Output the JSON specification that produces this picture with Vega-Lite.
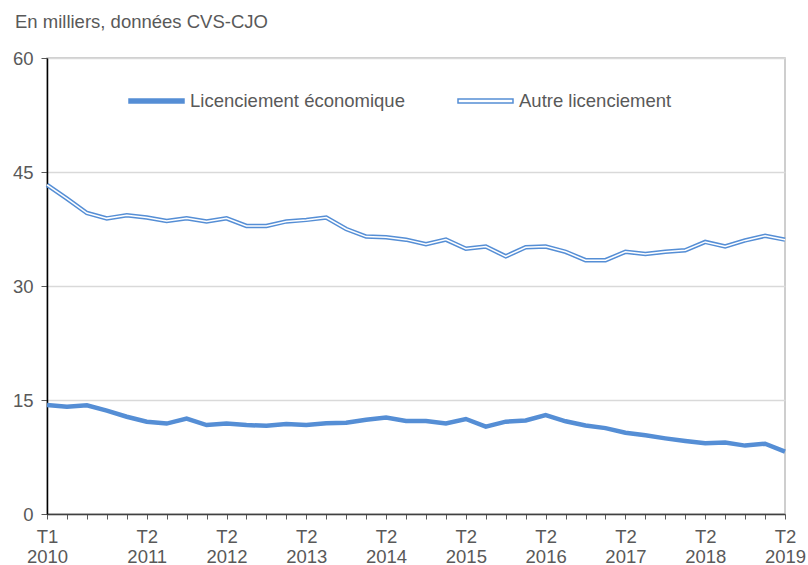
{
  "$schema": "https://vega.github.io/schema/vega-lite/v6.json",
  "width": 738,
  "height": 456,
  "autosize": "none",
  "padding": {"left": 47, "top": 58, "right": 23, "bottom": 51},
  "background": "white",
  "title": {
    "text": "En milliers, données CVS-CJO",
    "anchor": "start",
    "frame": "group",
    "dx": -32,
    "offset": 18,
    "font": "Liberation Sans",
    "fontSize": 18.5,
    "fontWeight": "normal",
    "color": "#595959"
  },
  "config": {
    "view": {"stroke": "#bfbfbf", "strokeWidth": 1.5},
    "font": "Liberation Sans"
  },
  "data": {
    "values": [
      {"q": "T1 2010", "s": "Licenciement économique", "v": 14.35},
      {"q": "T2 2010", "s": "Licenciement économique", "v": 14.1},
      {"q": "T3 2010", "s": "Licenciement économique", "v": 14.3},
      {"q": "T4 2010", "s": "Licenciement économique", "v": 13.6},
      {"q": "T1 2011", "s": "Licenciement économique", "v": 12.8},
      {"q": "T2 2011", "s": "Licenciement économique", "v": 12.15},
      {"q": "T3 2011", "s": "Licenciement économique", "v": 11.9},
      {"q": "T4 2011", "s": "Licenciement économique", "v": 12.55},
      {"q": "T1 2012", "s": "Licenciement économique", "v": 11.7},
      {"q": "T2 2012", "s": "Licenciement économique", "v": 11.9},
      {"q": "T3 2012", "s": "Licenciement économique", "v": 11.7},
      {"q": "T4 2012", "s": "Licenciement économique", "v": 11.6},
      {"q": "T1 2013", "s": "Licenciement économique", "v": 11.85},
      {"q": "T2 2013", "s": "Licenciement économique", "v": 11.7},
      {"q": "T3 2013", "s": "Licenciement économique", "v": 11.95},
      {"q": "T4 2013", "s": "Licenciement économique", "v": 12.0},
      {"q": "T1 2014", "s": "Licenciement économique", "v": 12.4},
      {"q": "T2 2014", "s": "Licenciement économique", "v": 12.7},
      {"q": "T3 2014", "s": "Licenciement économique", "v": 12.25},
      {"q": "T4 2014", "s": "Licenciement économique", "v": 12.25},
      {"q": "T1 2015", "s": "Licenciement économique", "v": 11.9},
      {"q": "T2 2015", "s": "Licenciement économique", "v": 12.5},
      {"q": "T3 2015", "s": "Licenciement économique", "v": 11.5},
      {"q": "T4 2015", "s": "Licenciement économique", "v": 12.15},
      {"q": "T1 2016", "s": "Licenciement économique", "v": 12.3},
      {"q": "T2 2016", "s": "Licenciement économique", "v": 13.0},
      {"q": "T3 2016", "s": "Licenciement économique", "v": 12.2},
      {"q": "T4 2016", "s": "Licenciement économique", "v": 11.65},
      {"q": "T1 2017", "s": "Licenciement économique", "v": 11.3},
      {"q": "T2 2017", "s": "Licenciement économique", "v": 10.7},
      {"q": "T3 2017", "s": "Licenciement économique", "v": 10.35},
      {"q": "T4 2017", "s": "Licenciement économique", "v": 9.95},
      {"q": "T1 2018", "s": "Licenciement économique", "v": 9.6},
      {"q": "T2 2018", "s": "Licenciement économique", "v": 9.3},
      {"q": "T3 2018", "s": "Licenciement économique", "v": 9.4},
      {"q": "T4 2018", "s": "Licenciement économique", "v": 9.0},
      {"q": "T1 2019", "s": "Licenciement économique", "v": 9.25},
      {"q": "T2 2019", "s": "Licenciement économique", "v": 8.2},
      {"q": "T1 2010", "s": "Autre licenciement", "v": 43.3},
      {"q": "T2 2010", "s": "Autre licenciement", "v": 41.5},
      {"q": "T3 2010", "s": "Autre licenciement", "v": 39.6},
      {"q": "T4 2010", "s": "Autre licenciement", "v": 38.9},
      {"q": "T1 2011", "s": "Autre licenciement", "v": 39.3},
      {"q": "T2 2011", "s": "Autre licenciement", "v": 39.0},
      {"q": "T3 2011", "s": "Autre licenciement", "v": 38.55},
      {"q": "T4 2011", "s": "Autre licenciement", "v": 38.9},
      {"q": "T1 2012", "s": "Autre licenciement", "v": 38.5},
      {"q": "T2 2012", "s": "Autre licenciement", "v": 38.9},
      {"q": "T3 2012", "s": "Autre licenciement", "v": 37.9},
      {"q": "T4 2012", "s": "Autre licenciement", "v": 37.9},
      {"q": "T1 2013", "s": "Autre licenciement", "v": 38.5},
      {"q": "T2 2013", "s": "Autre licenciement", "v": 38.7},
      {"q": "T3 2013", "s": "Autre licenciement", "v": 39.0},
      {"q": "T4 2013", "s": "Autre licenciement", "v": 37.5},
      {"q": "T1 2014", "s": "Autre licenciement", "v": 36.5},
      {"q": "T2 2014", "s": "Autre licenciement", "v": 36.4},
      {"q": "T3 2014", "s": "Autre licenciement", "v": 36.1},
      {"q": "T4 2014", "s": "Autre licenciement", "v": 35.5},
      {"q": "T1 2015", "s": "Autre licenciement", "v": 36.1},
      {"q": "T2 2015", "s": "Autre licenciement", "v": 34.9},
      {"q": "T3 2015", "s": "Autre licenciement", "v": 35.2},
      {"q": "T4 2015", "s": "Autre licenciement", "v": 33.9},
      {"q": "T1 2016", "s": "Autre licenciement", "v": 35.1},
      {"q": "T2 2016", "s": "Autre licenciement", "v": 35.2},
      {"q": "T3 2016", "s": "Autre licenciement", "v": 34.5},
      {"q": "T4 2016", "s": "Autre licenciement", "v": 33.4},
      {"q": "T1 2017", "s": "Autre licenciement", "v": 33.4},
      {"q": "T2 2017", "s": "Autre licenciement", "v": 34.5},
      {"q": "T3 2017", "s": "Autre licenciement", "v": 34.2},
      {"q": "T4 2017", "s": "Autre licenciement", "v": 34.5},
      {"q": "T1 2018", "s": "Autre licenciement", "v": 34.7},
      {"q": "T2 2018", "s": "Autre licenciement", "v": 35.8},
      {"q": "T3 2018", "s": "Autre licenciement", "v": 35.2},
      {"q": "T4 2018", "s": "Autre licenciement", "v": 36.0},
      {"q": "T1 2019", "s": "Autre licenciement", "v": 36.6},
      {"q": "T2 2019", "s": "Autre licenciement", "v": 36.1}
    ]
  },
  "encoding": {
    "x": {
      "field": "q",
      "type": "ordinal",
      "sort": null,
      "scale": {"type": "point", "padding": 0},
      "axis": {
        "title": null,
        "labelAngle": 0,
        "labelOverlap": false,
        "labelExpr": "(datum.value == 'T1 2010' || (slice(datum.value, 0, 2) == 'T2' && datum.value != 'T2 2010')) ? split(datum.value, ' ') : ''",
        "labelFont": "Liberation Sans",
        "labelFontSize": 18.5,
        "labelColor": "#595959",
        "labelLineHeight": 20,
        "labelPadding": 8,
        "tickSize": 5,
        "tickColor": "#595959",
        "domainColor": "#404040",
        "domainWidth": 1.5,
        "grid": false
      }
    },
    "y": {
      "field": "v",
      "type": "quantitative",
      "scale": {"domain": [0, 60], "nice": false},
      "axis": {
        "title": null,
        "values": [0, 15, 30, 45, 60],
        "labelFont": "Liberation Sans",
        "labelFontSize": 18.5,
        "labelColor": "#595959",
        "labelPadding": 8,
        "tickSize": 6,
        "tickColor": "#595959",
        "domainColor": "#000000",
        "domainWidth": 1.5,
        "gridColor": "#d9d9d9",
        "gridWidth": 1.5
      }
    }
  },
  "layer": [
    {
      "mark": {"type": "line", "strokeWidth": 4.5},
      "encoding": {
        "color": {
          "field": "s",
          "type": "nominal",
          "scale": {
            "domain": ["Licenciement économique", "Autre licenciement"],
            "range": ["#558ed5", "#558ed5"]
          },
          "legend": {
            "title": null,
            "orient": "none",
            "legendX": 81,
            "legendY": 14.5,
            "direction": "horizontal",
            "columnPadding": 50,
            "symbolType": "M-1,-0.075H1V0.075H-1Z",
            "symbolSize": 3025,
            "symbolStrokeWidth": 1.5,
            "labelFont": "Liberation Sans",
            "labelFontSize": 18.5,
            "labelLimit": 400,
            "labelColor": "#595959",
            "labelOffset": 5,
            "encode": {
              "symbols": {
                "update": {
                  "fill": {"signal": "datum.value === 'Autre licenciement' ? '#ffffff' : '#558ed5'"},
                  "stroke": {"value": "#558ed5"},
                  "opacity": {"value": 1},
                  "fillOpacity": {"value": 1}
                }
              }
            }
          }
        }
      }
    },
    {
      "transform": [{"filter": "datum.s === 'Autre licenciement'"}],
      "mark": {"type": "line", "strokeWidth": 1.5, "color": "#ffffff"},
      "encoding": {}
    }
  ]
}
